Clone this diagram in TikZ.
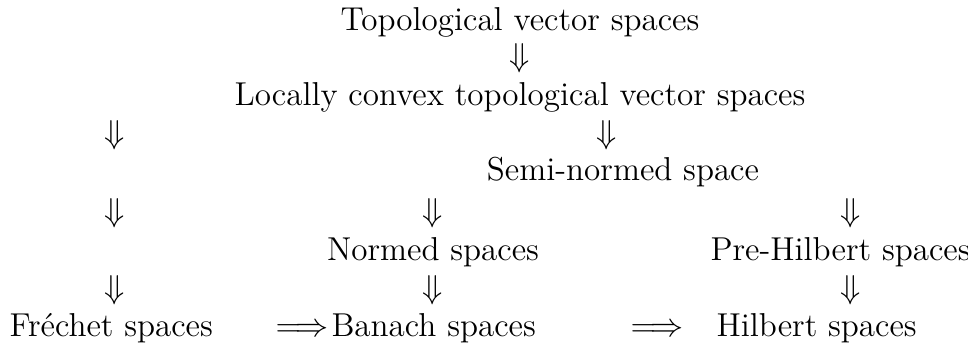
\documentclass[tikz,border=0pt]{standalone}
\begin{document}
\begin{tikzpicture}[x=0.3625pt,y=-0.3625pt,
  font=\fontsize{12}{14}\selectfont,
  lbl/.style={inner sep=0pt,anchor=base},
  lblw/.style={inner sep=0pt,anchor=base west},
  imp/.style={inner sep=0pt,anchor=center}]
\useasboundingbox (0,0) rectangle (968,347);
% row 1
\node[lbl] (tvs) at (520,30) {Topological vector spaces};
\node[imp] (d1) at (520,58) {$\Downarrow$};
% row 2
\node[lbl] (lc) at (520,105) {Locally convex topological vector spaces};
\node[imp] (d2) at (115,135) {$\Downarrow$};
\node[imp] (d3) at (607,135) {$\Downarrow$};
% row 3
\node[lbl] (sn) at (623,180) {Semi-normed space};
\node[imp] (d4) at (115,213) {$\Downarrow$};
\node[imp] (d5) at (433,213) {$\Downarrow$};
\node[imp] (d6) at (851,213) {$\Downarrow$};
% row 4
\node[lbl] (ns) at (433,260) {Normed spaces};
\node[lblw] (ph) at (710,260) {Pre-Hilbert spaces};
\node[imp] (d7) at (115,290) {$\Downarrow$};
\node[imp] (d8) at (433,290) {$\Downarrow$};
\node[imp] (d9) at (851,290) {$\Downarrow$};
% row 5
\node[lblw] (fs) at (9,336) {Fr\'echet spaces};
\node[lbl] (r1) at (302,336) {$\Longrightarrow$};
\node[lblw] (bs) at (331,336) {Banach spaces};
\node[lbl] (r2) at (657,336) {$\Longrightarrow$};
\node[lblw] (hs) at (716,336) {Hilbert spaces};
\end{tikzpicture}
\end{document}
